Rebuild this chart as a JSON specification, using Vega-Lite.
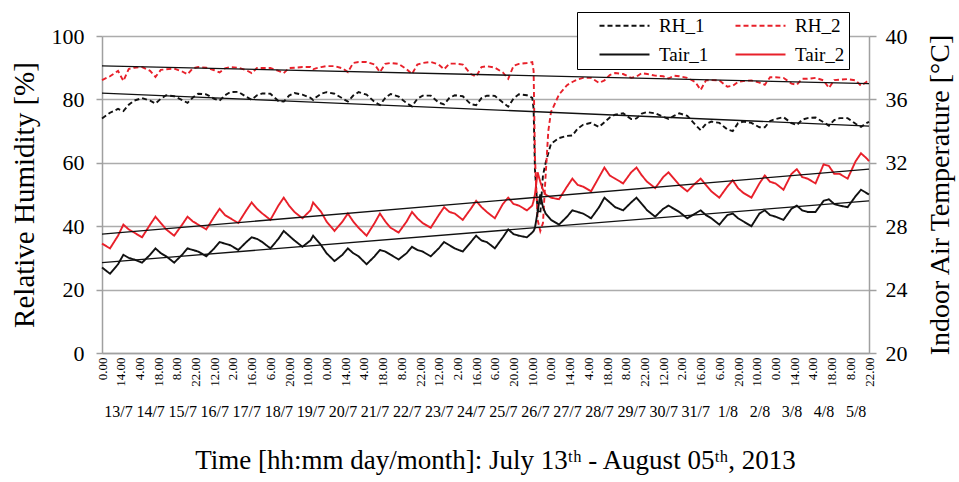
{
  "$schema": "https://vega.github.io/schema/vega-lite/v6.json",
  "width": 767,
  "height": 317,
  "autosize": "none",
  "padding": {"left": 102, "top": 36, "right": 90, "bottom": 129},
  "background": "white",
  "config": {
    "font": "Liberation Serif, Tinos, Times New Roman, Times, DejaVu Serif, serif",
    "view": {"stroke": null},
    "axis": {
      "labelFont": "Liberation Serif, Tinos, Times New Roman, Times, DejaVu Serif, serif",
      "titleFont": "Liberation Serif, Tinos, Times New Roman, Times, DejaVu Serif, serif",
      "labelColor": "#000",
      "titleColor": "#000",
      "titleFontWeight": "normal",
      "domainColor": "#a0a0a0",
      "domainWidth": 1.5,
      "tickColor": "#a0a0a0",
      "tickWidth": 1.5,
      "gridColor": "#acacac",
      "gridWidth": 1.5
    },
    "legend": {
      "orient": "none", "legendX": 475, "legendY": -24, "direction": "horizontal", "columns": 2,
      "symbolType": "M-5,0H5", "symbolSize": 100, "symbolStrokeWidth": 1.8,
      "labelFont": "Liberation Serif, Tinos, Times New Roman, Times, DejaVu Serif, serif",
      "labelFontSize": 19, "labelColor": "#000", "fillColor": "white", "strokeColor": "#000",
      "padding": 4, "rowPadding": 9, "columnPadding": 8, "symbolOffset": 34, "labelOffset": 25
    }
  },
  "datasets": {
    "main": [
      {"h":0,"RH_1":74.0,"RH_2":86.1,"Tair_1":25.4,"Tair_2":26.9},
      {"h":6,"RH_1":75.8,"RH_2":87.3,"Tair_1":25.0,"Tair_2":26.6},
      {"h":12,"RH_1":77.0,"RH_2":89.0,"Tair_1":25.6,"Tair_2":27.4},
      {"h":16,"RH_1":76.3,"RH_2":85.8,"Tair_1":26.2,"Tair_2":28.1},
      {"h":20,"RH_1":78.3,"RH_2":89.6,"Tair_1":26.0,"Tair_2":27.8},
      {"h":24,"RH_1":79.6,"RH_2":90.0,"Tair_1":25.9,"Tair_2":27.6},
      {"h":30,"RH_1":80.4,"RH_2":90.2,"Tair_1":25.7,"Tair_2":27.3},
      {"h":36,"RH_1":79.6,"RH_2":89.0,"Tair_1":26.2,"Tair_2":28.1},
      {"h":40,"RH_1":78.7,"RH_2":87.1,"Tair_1":26.6,"Tair_2":28.6},
      {"h":44,"RH_1":80.2,"RH_2":89.3,"Tair_1":26.3,"Tair_2":28.2},
      {"h":48,"RH_1":81.3,"RH_2":89.5,"Tair_1":26.1,"Tair_2":27.8},
      {"h":54,"RH_1":81.0,"RH_2":89.7,"Tair_1":25.7,"Tair_2":27.4},
      {"h":60,"RH_1":79.8,"RH_2":88.8,"Tair_1":26.2,"Tair_2":28.1},
      {"h":64,"RH_1":78.9,"RH_2":87.9,"Tair_1":26.6,"Tair_2":28.6},
      {"h":68,"RH_1":80.6,"RH_2":89.8,"Tair_1":26.5,"Tair_2":28.3},
      {"h":72,"RH_1":81.8,"RH_2":90.2,"Tair_1":26.4,"Tair_2":28.1},
      {"h":78,"RH_1":81.6,"RH_2":90.0,"Tair_1":26.1,"Tair_2":27.8},
      {"h":84,"RH_1":80.2,"RH_2":89.2,"Tair_1":26.6,"Tair_2":28.6},
      {"h":88,"RH_1":79.6,"RH_2":88.5,"Tair_1":27.0,"Tair_2":29.1},
      {"h":92,"RH_1":81.3,"RH_2":89.8,"Tair_1":26.9,"Tair_2":28.7},
      {"h":96,"RH_1":82.3,"RH_2":90.2,"Tair_1":26.8,"Tair_2":28.5},
      {"h":102,"RH_1":82.4,"RH_2":90.0,"Tair_1":26.5,"Tair_2":28.2},
      {"h":108,"RH_1":80.8,"RH_2":89.2,"Tair_1":27.0,"Tair_2":29.0},
      {"h":112,"RH_1":79.9,"RH_2":88.3,"Tair_1":27.3,"Tair_2":29.5},
      {"h":116,"RH_1":81.3,"RH_2":89.9,"Tair_1":27.2,"Tair_2":29.1},
      {"h":120,"RH_1":81.9,"RH_2":89.9,"Tair_1":27.0,"Tair_2":28.8},
      {"h":126,"RH_1":81.8,"RH_2":89.9,"Tair_1":26.6,"Tair_2":28.4},
      {"h":132,"RH_1":79.5,"RH_2":89.0,"Tair_1":27.2,"Tair_2":29.3},
      {"h":136,"RH_1":79.3,"RH_2":88.3,"Tair_1":27.7,"Tair_2":29.8},
      {"h":140,"RH_1":81.2,"RH_2":89.9,"Tair_1":27.4,"Tair_2":29.3},
      {"h":144,"RH_1":82.0,"RH_2":90.0,"Tair_1":27.1,"Tair_2":28.9},
      {"h":150,"RH_1":81.5,"RH_2":90.2,"Tair_1":26.7,"Tair_2":28.5},
      {"h":156,"RH_1":80.5,"RH_2":90.2,"Tair_1":27.1,"Tair_2":29.0},
      {"h":158,"RH_1":79.8,"RH_2":89.5,"Tair_1":27.4,"Tair_2":29.5},
      {"h":160,"RH_1":80.6,"RH_2":89.8,"Tair_1":27.2,"Tair_2":29.3},
      {"h":164,"RH_1":81.8,"RH_2":90.2,"Tair_1":26.8,"Tair_2":28.9},
      {"h":168,"RH_1":82.3,"RH_2":90.5,"Tair_1":26.3,"Tair_2":28.3},
      {"h":174,"RH_1":81.8,"RH_2":90.5,"Tair_1":25.8,"Tair_2":27.7},
      {"h":180,"RH_1":80.3,"RH_2":89.8,"Tair_1":26.2,"Tair_2":28.3},
      {"h":184,"RH_1":79.3,"RH_2":88.6,"Tair_1":26.6,"Tair_2":28.8},
      {"h":188,"RH_1":81.2,"RH_2":91.5,"Tair_1":26.3,"Tair_2":28.3},
      {"h":192,"RH_1":82.3,"RH_2":91.8,"Tair_1":26.1,"Tair_2":27.9},
      {"h":198,"RH_1":81.5,"RH_2":91.8,"Tair_1":25.6,"Tair_2":27.4},
      {"h":204,"RH_1":79.2,"RH_2":91.0,"Tair_1":26.1,"Tair_2":28.2},
      {"h":208,"RH_1":78.2,"RH_2":88.6,"Tair_1":26.5,"Tair_2":28.8},
      {"h":212,"RH_1":80.5,"RH_2":91.2,"Tair_1":26.4,"Tair_2":28.3},
      {"h":216,"RH_1":81.7,"RH_2":91.5,"Tair_1":26.2,"Tair_2":27.9},
      {"h":222,"RH_1":80.9,"RH_2":91.2,"Tair_1":25.9,"Tair_2":27.6},
      {"h":228,"RH_1":78.8,"RH_2":89.5,"Tair_1":26.3,"Tair_2":28.3},
      {"h":232,"RH_1":77.8,"RH_2":88.0,"Tair_1":26.7,"Tair_2":28.9},
      {"h":236,"RH_1":80.2,"RH_2":91.0,"Tair_1":26.5,"Tair_2":28.5},
      {"h":240,"RH_1":81.2,"RH_2":91.5,"Tair_1":26.4,"Tair_2":28.2},
      {"h":246,"RH_1":81.2,"RH_2":91.8,"Tair_1":26.1,"Tair_2":27.9},
      {"h":252,"RH_1":79.0,"RH_2":91.0,"Tair_1":26.6,"Tair_2":28.7},
      {"h":256,"RH_1":78.4,"RH_2":89.5,"Tair_1":27.0,"Tair_2":29.2},
      {"h":260,"RH_1":80.5,"RH_2":91.3,"Tair_1":26.8,"Tair_2":28.9},
      {"h":264,"RH_1":81.3,"RH_2":91.3,"Tair_1":26.6,"Tair_2":28.8},
      {"h":270,"RH_1":81.0,"RH_2":91.0,"Tair_1":26.4,"Tair_2":28.4},
      {"h":276,"RH_1":78.5,"RH_2":88.0,"Tair_1":27.0,"Tair_2":29.1},
      {"h":280,"RH_1":78.2,"RH_2":87.2,"Tair_1":27.4,"Tair_2":29.6},
      {"h":284,"RH_1":80.4,"RH_2":90.2,"Tair_1":27.1,"Tair_2":29.2},
      {"h":288,"RH_1":81.2,"RH_2":90.5,"Tair_1":27.0,"Tair_2":28.9},
      {"h":294,"RH_1":81.1,"RH_2":90.0,"Tair_1":26.6,"Tair_2":28.5},
      {"h":300,"RH_1":79.0,"RH_2":88.5,"Tair_1":27.3,"Tair_2":29.4},
      {"h":304,"RH_1":77.7,"RH_2":86.5,"Tair_1":27.8,"Tair_2":29.8},
      {"h":308,"RH_1":80.3,"RH_2":90.6,"Tair_1":27.5,"Tair_2":29.4},
      {"h":312,"RH_1":81.6,"RH_2":91.2,"Tair_1":27.4,"Tair_2":29.3},
      {"h":318,"RH_1":81.3,"RH_2":91.5,"Tair_1":27.3,"Tair_2":29.0},
      {"h":322,"RH_1":80.5,"RH_2":91.8,"Tair_1":27.6,"Tair_2":29.3},
      {"h":323,"RH_1":77.0,"RH_2":89.0,"Tair_1":27.7,"Tair_2":29.6},
      {"h":324,"RH_1":58.0,"RH_2":62.0,"Tair_1":27.9,"Tair_2":30.0},
      {"h":326,"RH_1":45.0,"RH_2":42.0,"Tair_1":28.9,"Tair_2":31.4},
      {"h":328,"RH_1":44.0,"RH_2":38.5,"Tair_1":30.0,"Tair_2":30.8},
      {"h":330,"RH_1":56.0,"RH_2":41.0,"Tair_1":29.2,"Tair_2":30.3},
      {"h":332,"RH_1":60.0,"RH_2":56.0,"Tair_1":28.8,"Tair_2":30.0},
      {"h":334,"RH_1":63.0,"RH_2":70.0,"Tair_1":28.6,"Tair_2":29.9},
      {"h":336,"RH_1":66.0,"RH_2":76.0,"Tair_1":28.4,"Tair_2":29.8},
      {"h":342,"RH_1":67.8,"RH_2":81.5,"Tair_1":28.1,"Tair_2":29.7},
      {"h":348,"RH_1":68.5,"RH_2":84.5,"Tair_1":28.6,"Tair_2":30.5},
      {"h":352,"RH_1":68.6,"RH_2":85.5,"Tair_1":29.0,"Tair_2":31.0},
      {"h":356,"RH_1":70.8,"RH_2":86.3,"Tair_1":28.9,"Tair_2":30.6},
      {"h":360,"RH_1":72.0,"RH_2":86.8,"Tair_1":28.8,"Tair_2":30.5},
      {"h":366,"RH_1":72.6,"RH_2":86.8,"Tair_1":28.5,"Tair_2":30.2},
      {"h":372,"RH_1":71.3,"RH_2":85.2,"Tair_1":29.2,"Tair_2":31.1},
      {"h":376,"RH_1":72.8,"RH_2":86.0,"Tair_1":29.8,"Tair_2":31.7},
      {"h":380,"RH_1":74.3,"RH_2":87.7,"Tair_1":29.5,"Tair_2":31.2},
      {"h":384,"RH_1":75.2,"RH_2":88.3,"Tair_1":29.2,"Tair_2":31.0},
      {"h":390,"RH_1":75.6,"RH_2":88.0,"Tair_1":29.0,"Tair_2":30.7},
      {"h":396,"RH_1":73.8,"RH_2":86.8,"Tair_1":29.5,"Tair_2":31.4},
      {"h":400,"RH_1":74.0,"RH_2":87.2,"Tair_1":29.8,"Tair_2":31.7},
      {"h":404,"RH_1":75.5,"RH_2":88.3,"Tair_1":29.4,"Tair_2":31.2},
      {"h":408,"RH_1":76.0,"RH_2":88.0,"Tair_1":29.0,"Tair_2":30.8},
      {"h":414,"RH_1":75.6,"RH_2":87.5,"Tair_1":28.6,"Tair_2":30.4},
      {"h":420,"RH_1":74.5,"RH_2":87.3,"Tair_1":29.1,"Tair_2":31.1},
      {"h":424,"RH_1":73.8,"RH_2":86.6,"Tair_1":29.3,"Tair_2":31.4},
      {"h":428,"RH_1":74.8,"RH_2":87.5,"Tair_1":29.1,"Tair_2":31.0},
      {"h":432,"RH_1":75.6,"RH_2":87.3,"Tair_1":28.9,"Tair_2":30.6},
      {"h":438,"RH_1":74.8,"RH_2":86.8,"Tair_1":28.5,"Tair_2":30.2},
      {"h":444,"RH_1":72.0,"RH_2":85.5,"Tair_1":28.8,"Tair_2":30.7},
      {"h":448,"RH_1":70.3,"RH_2":83.0,"Tair_1":29.0,"Tair_2":31.0},
      {"h":452,"RH_1":72.3,"RH_2":86.0,"Tair_1":28.7,"Tair_2":30.6},
      {"h":456,"RH_1":73.0,"RH_2":86.1,"Tair_1":28.5,"Tair_2":30.2},
      {"h":462,"RH_1":72.6,"RH_2":86.0,"Tair_1":28.1,"Tair_2":29.8},
      {"h":468,"RH_1":70.5,"RH_2":84.0,"Tair_1":28.7,"Tair_2":30.5},
      {"h":472,"RH_1":70.0,"RH_2":84.3,"Tair_1":28.8,"Tair_2":30.9},
      {"h":476,"RH_1":72.5,"RH_2":85.5,"Tair_1":28.5,"Tair_2":30.4},
      {"h":480,"RH_1":73.0,"RH_2":85.8,"Tair_1":28.3,"Tair_2":30.1},
      {"h":486,"RH_1":72.6,"RH_2":86.0,"Tair_1":28.0,"Tair_2":29.8},
      {"h":492,"RH_1":71.2,"RH_2":85.3,"Tair_1":28.8,"Tair_2":30.7},
      {"h":496,"RH_1":71.2,"RH_2":84.6,"Tair_1":29.0,"Tair_2":31.2},
      {"h":500,"RH_1":73.2,"RH_2":87.0,"Tair_1":28.7,"Tair_2":30.8},
      {"h":504,"RH_1":73.8,"RH_2":87.0,"Tair_1":28.6,"Tair_2":30.7},
      {"h":510,"RH_1":74.4,"RH_2":86.8,"Tair_1":28.4,"Tair_2":30.3},
      {"h":516,"RH_1":72.5,"RH_2":85.0,"Tair_1":29.1,"Tair_2":31.3},
      {"h":520,"RH_1":71.9,"RH_2":84.6,"Tair_1":29.3,"Tair_2":31.6},
      {"h":524,"RH_1":73.6,"RH_2":86.5,"Tair_1":29.0,"Tair_2":31.1},
      {"h":528,"RH_1":74.1,"RH_2":86.5,"Tair_1":28.9,"Tair_2":31.0},
      {"h":534,"RH_1":74.3,"RH_2":86.8,"Tair_1":28.9,"Tair_2":30.7},
      {"h":540,"RH_1":72.8,"RH_2":86.0,"Tair_1":29.6,"Tair_2":31.9},
      {"h":544,"RH_1":71.7,"RH_2":83.6,"Tair_1":29.7,"Tair_2":31.8},
      {"h":548,"RH_1":73.5,"RH_2":86.1,"Tair_1":29.4,"Tair_2":31.3},
      {"h":552,"RH_1":74.1,"RH_2":86.2,"Tair_1":29.3,"Tair_2":31.3},
      {"h":558,"RH_1":74.1,"RH_2":86.4,"Tair_1":29.2,"Tair_2":31.0},
      {"h":564,"RH_1":72.3,"RH_2":86.0,"Tair_1":29.9,"Tair_2":32.1},
      {"h":568,"RH_1":71.3,"RH_2":84.3,"Tair_1":30.3,"Tair_2":32.6},
      {"h":572,"RH_1":72.5,"RH_2":85.5,"Tair_1":30.1,"Tair_2":32.3},
      {"h":574,"RH_1":72.9,"RH_2":86.1,"Tair_1":30.0,"Tair_2":32.1}
    ],
    "trend": [
      {"h":0,"RH_1":82.0,"RH_2":90.6,"Tair_1":25.7,"Tair_2":27.5},
      {"h":574,"RH_1":71.6,"RH_2":85.0,"Tair_1":29.6,"Tair_2":31.6}
    ]
  },
  "layer": [
    {
      "data": {"name": "main"},
      "transform": [{"fold": ["RH_1", "RH_2"], "as": ["series", "value"]}],
      "mark": {"type": "line", "strokeWidth": 1.9},
      "encoding": {
        "x": {
          "field": "h", "type": "quantitative",
          "scale": {"domain": [0, 574], "nice": false, "zero": false},
          "axis": {
            "orient": "bottom",
            "values": [0,14,28,42,56,70,84,98,112,126,140,154,168,182,196,210,224,238,252,266,280,294,308,322,336,350,364,378,392,406,420,434,448,462,476,490,504,518,532,546,560,574],
            "labelExpr": "(datum.value % 24) + '.00'",
            "labelAngle": 270,
            "labelFontSize": 13,
            "labelPadding": 4,
            "labelOverlap": false,
            "labelFlush": false,
            "ticks": false,
            "grid": false,
            "title": null
          }
        },
        "y": {
          "field": "value", "type": "quantitative",
          "scale": {"domain": [0, 100], "nice": false},
          "axis": {
            "values": [0,20,40,60,80,100],
            "grid": true,
            "tickSize": 6,
            "labelPadding": 12,
            "labelFontSize": 22,
            "title": "Relative Humidity [%]",
            "titleFontSize": 29,
            "titlePadding": 12
          }
        },
        "color": {
          "field": "series", "type": "nominal",
          "scale": {"domain": ["RH_1","RH_2","Tair_1","Tair_2"], "range": ["#111111","#e8202a","#111111","#e8202a"]},
          "legend": {"title": null, "labelExpr": "datum.label + '   '"}
        },
        "strokeDash": {
          "field": "series", "type": "nominal",
          "scale": {"domain": ["RH_1","RH_2","Tair_1","Tair_2"], "range": [[5,3],[5,3],[1,0],[1,0]]},
          "legend": {"title": null, "labelExpr": "datum.label + '   '"}
        }
      }
    },
    {
      "data": {"name": "main"},
      "transform": [{"fold": ["Tair_1", "Tair_2"], "as": ["series", "value"]}],
      "mark": {"type": "line", "strokeWidth": 1.9},
      "encoding": {
        "x": {"field": "h", "type": "quantitative", "scale": {"domain": [0, 574], "nice": false, "zero": false}, "axis": null},
        "y": {
          "field": "value", "type": "quantitative",
          "scale": {"domain": [20, 40], "nice": false, "zero": false},
          "axis": {
            "orient": "right",
            "values": [20,24,28,32,36,40],
            "grid": false,
            "tickSize": 7,
            "labelPadding": 9,
            "labelFontSize": 22,
            "title": "Indoor Air Temperature [°C]",
            "titleFontSize": 28,
            "titleAngle": 270,
            "titleBaseline": "top",
            "titlePadding": 19
          }
        },
        "color": {
          "field": "series", "type": "nominal",
          "scale": {"domain": ["RH_1","RH_2","Tair_1","Tair_2"], "range": ["#111111","#e8202a","#111111","#e8202a"]},
          "legend": {"title": null, "labelExpr": "datum.label + '   '"}
        },
        "strokeDash": {
          "field": "series", "type": "nominal",
          "scale": {"domain": ["RH_1","RH_2","Tair_1","Tair_2"], "range": [[5,3],[5,3],[1,0],[1,0]]},
          "legend": {"title": null, "labelExpr": "datum.label + '   '"}
        }
      }
    },
    {
      "data": {"name": "trend"},
      "transform": [{"fold": ["RH_1", "RH_2"], "as": ["series", "value"]}],
      "mark": {"type": "line", "color": "#111111", "strokeWidth": 1.3},
      "encoding": {
        "x": {"field": "h", "type": "quantitative", "scale": {"domain": [0, 574], "nice": false, "zero": false}, "axis": null},
        "y": {"field": "value", "type": "quantitative", "scale": {"domain": [0, 100], "nice": false}, "axis": null},
        "detail": {"field": "series", "type": "nominal"}
      }
    },
    {
      "data": {"name": "trend"},
      "transform": [{"fold": ["Tair_1", "Tair_2"], "as": ["series", "value"]}],
      "mark": {"type": "line", "color": "#111111", "strokeWidth": 1.3},
      "encoding": {
        "x": {
          "field": "h", "type": "quantitative",
          "scale": {"domain": [0, 574], "nice": false, "zero": false},
          "axis": {
            "orient": "bottom",
            "values": [12,36,60,84,108,132,156,180,204,228,252,276,300,324,348,372,396,420,444,468,492,516,540,564],
            "labelExpr": "datum.value < 456 ? (floor(datum.value / 24) + 13) + '/7' : (floor(datum.value / 24) - 18) + '/8'",
            "labelAngle": 0,
            "labelFontSize": 16,
            "labelPadding": 50,
            "labelOverlap": false,
            "labelFlush": false,
            "domain": false,
            "ticks": false,
            "grid": false,
            "title": "Time [hh:mm day/month]: July 13ᵗʰ - August 05ᵗʰ, 2013",
            "titleFontSize": 27,
            "titlePadding": 28,
            "titleX": 393
          }
        },
        "y": {"field": "value", "type": "quantitative", "scale": {"domain": [20, 40], "nice": false, "zero": false}, "axis": null},
        "detail": {"field": "series", "type": "nominal"}
      }
    }
  ],
  "resolve": {"scale": {"x": "independent", "y": "independent"}}
}
